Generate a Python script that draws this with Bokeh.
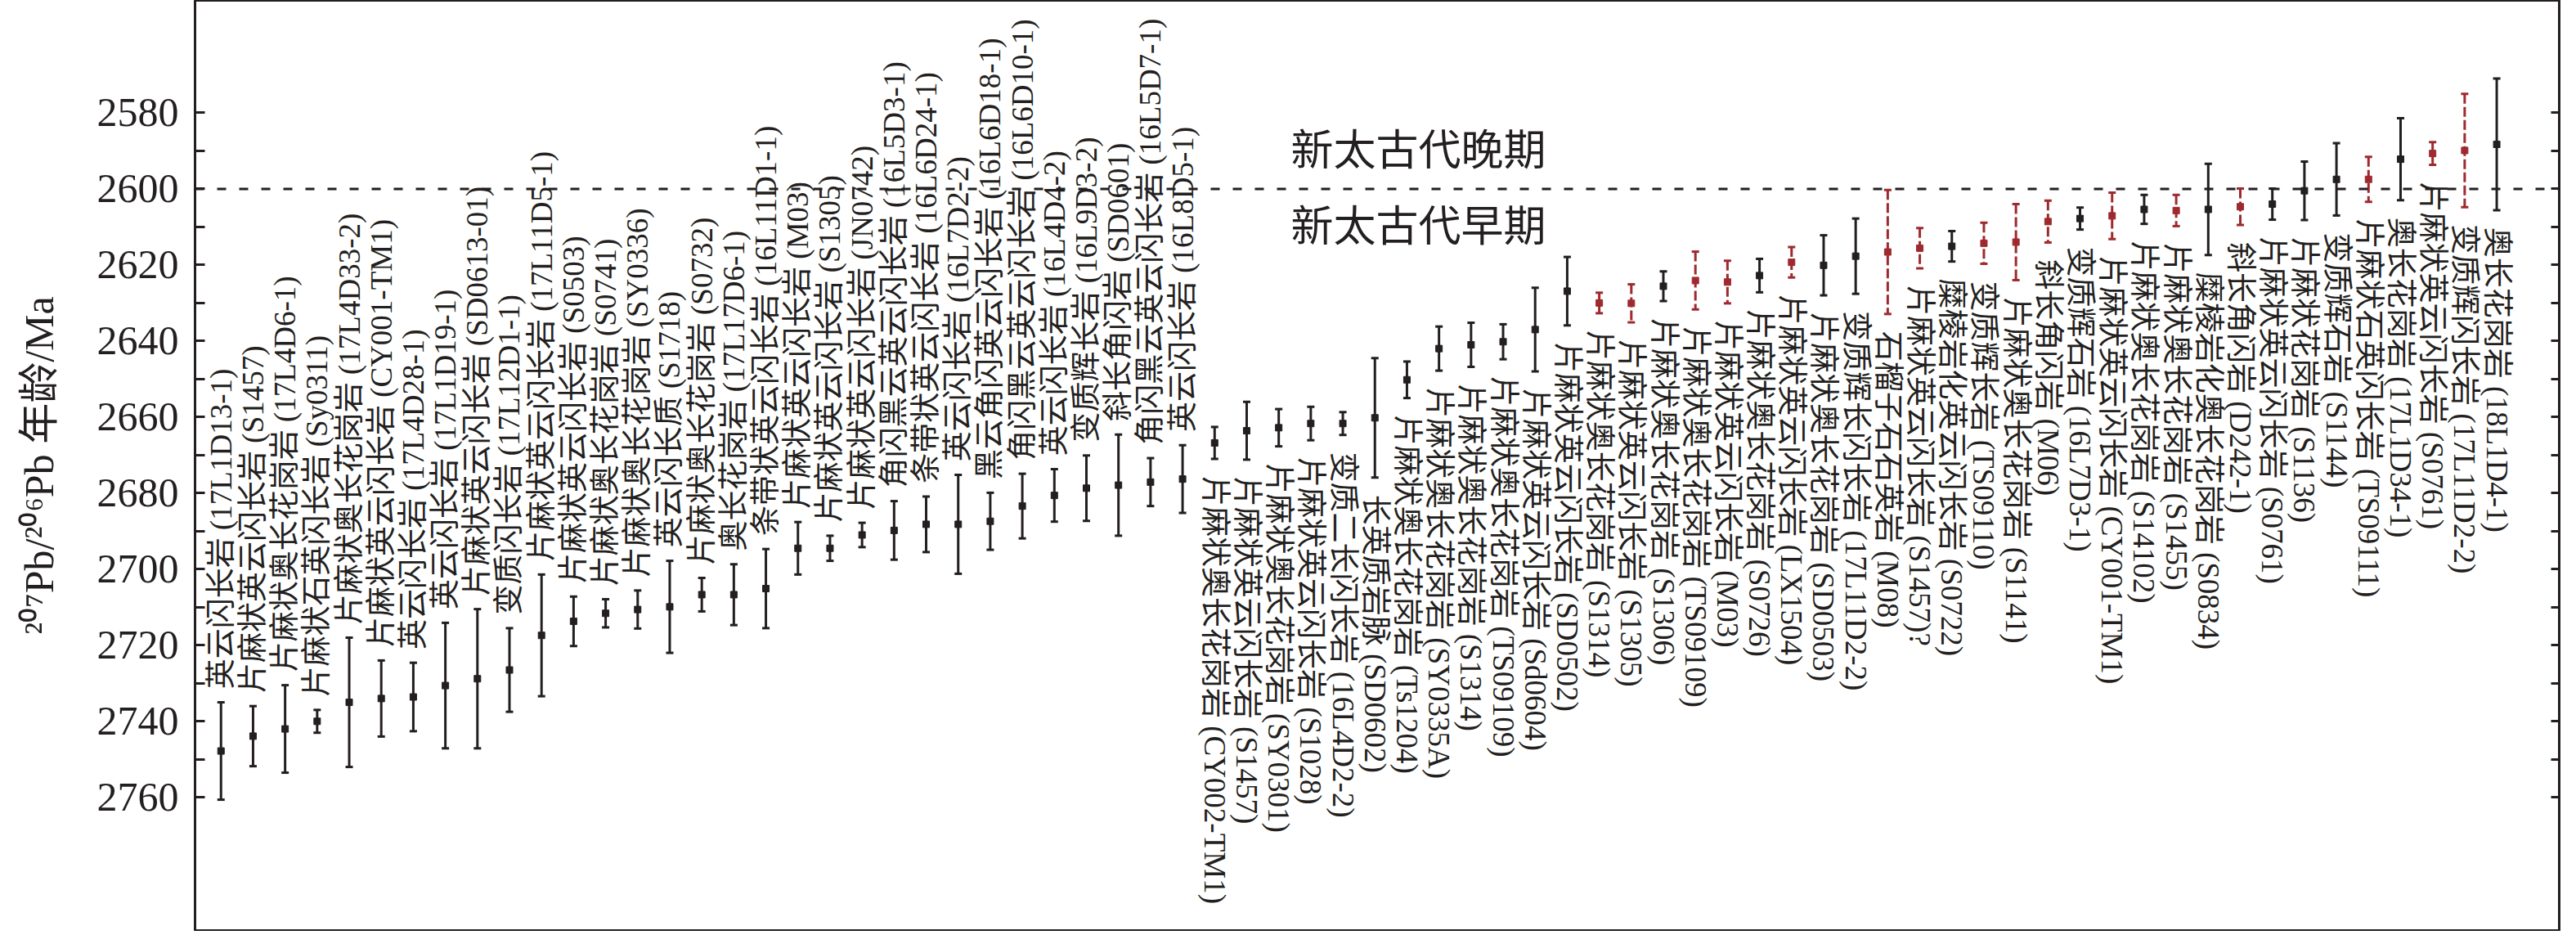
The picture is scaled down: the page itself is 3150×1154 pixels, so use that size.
import numpy as np
from bokeh.plotting import figure
from bokeh.models import ColumnDataSource, Range1d, LinearAxis, FixedTicker, Span, Label
from bokeh.embed import file_html
from bokeh.resources import INLINE
from bokeh.core.properties import value

samples = [
    "英云闪长岩 (17L1D13-1)", "片麻状英云闪长岩 (S1457)", "片麻状奥长花岗岩 (17L4D6-1)",
    "片麻状石英闪长岩 (Sy0311)", "片麻状奥长花岗岩 (17L4D33-2)", "片麻状英云闪长岩 (CY001-TM1)",
    "英云闪长岩 (17L4D28-1)", "英云闪长岩 (17L1D19-1)", "片麻状英云闪长岩 (SD0613-01)",
    "变质闪长岩 (17L12D1-1)", "片麻状英云闪长岩 (17L11D5-1)", "片麻状英云闪长岩 (S0503)",
    "片麻状奥长花岗岩 (S0741)", "片麻状奥长花岗岩 (SY0336)", "英云闪长质 (S1718)",
    "片麻状奥长花岗岩 (S0732)", "奥长花岗岩 (17L17D6-1)", "条带状英云闪长岩 (16L11D1-1)",
    "片麻状英云闪长岩 (M03)", "片麻状英云闪长岩 (S1305)", "片麻状英云闪长岩 (JN0742)",
    "角闪黑云英云闪长岩 (16L5D3-1)", "条带状英云闪长岩 (16L6D24-1)", "英云闪长岩 (16L7D2-2)",
    "黑云角闪英云闪长岩 (16L6D18-1)", "角闪黑云英云闪长岩 (16L6D10-1)", "英云闪长岩 (16L4D4-2)",
    "变质辉长岩 (16L9D3-2)", "斜长角闪岩 (SD0601)", "角闪黑云英云闪长岩 (16L5D7-1)",
    "英云闪长岩 (16L8D5-1)",
    "片麻状奥长花岗岩 (CY002-TM1)", "片麻状英云闪长岩 (S1457)", "片麻状奥长花岗岩 (SY0301)",
    "片麻状英云闪长岩 (S1028)", "变质二长闪长岩 (16L4D2-2)", "长英质岩脉 (SD0602)",
    "片麻状奥长花岗岩 (Ts1204)", "片麻状奥长花岗岩 (SY0335A)", "片麻状奥长花岗岩 (S1314)",
    "片麻状奥长花岗岩 (TS09109)", "片麻状英云闪长岩 (Sd0604)", "片麻状英云闪长岩 (SD0502)",
    "片麻状奥长花岗岩 (S1314)", "片麻状英云闪长岩 (S1305)", "片麻状奥长花岗岩 (S1306)",
    "片麻状奥长花岗岩 (TS09109)", "片麻状英云闪长岩 (M03)", "片麻状奥长花岗岩 (S0726)",
    "片麻状英云闪长岩 (LX1504)", "片麻状奥长花岗岩 (SD0503)", "变质辉长闪长岩 (17L11D2-2)",
    "石榴子石石英岩 (M08)", "片麻状英云闪长岩 (S1457)?", "糜棱岩化英云闪长岩 (S0722)",
    "变质辉长岩 (TS09110)", "片麻状奥长花岗岩 (S1141)", "斜长角闪岩 (M06)",
    "变质辉石岩 (16L7D3-1)", "片麻状英云闪长岩 (CY001-TM1)", "片麻状奥长花岗岩 (S14102)",
    "片麻状奥长花岗岩 (S1455)", "糜棱岩化奥长花岗岩 (S0834)", "斜长角闪岩 (D242-1)",
    "片麻状英云闪长岩 (S0761)", "片麻状花岗岩 (S1136)", "变质辉石岩 (S1144)",
    "片麻状石英闪长岩 (TS09111)", "奥长花岗岩 (17L1D34-1)", "片麻状英云闪长岩 (S0761)",
    "变质辉闪长岩 (17L11D2-2)", "奥长花岗岩 (18L1D4-1)",
]

ages = [
    2747.8, 2743.9, 2742.0, 2740.0, 2735.0, 2734.0, 2733.6, 2730.6, 2728.8, 2726.5,
    2717.4, 2713.7, 2711.6, 2710.6, 2709.9, 2706.7, 2706.7, 2705.1, 2694.5, 2694.5,
    2691.0, 2689.8, 2688.2, 2688.2, 2687.4, 2683.4, 2680.6, 2678.7, 2677.9, 2677.1,
    2676.3, 2666.8, 2663.6, 2662.8, 2661.7, 2661.7, 2660.2, 2650.2, 2642.0, 2641.0,
    2640.2, 2637.0, 2626.9, 2630.0, 2630.1, 2625.6, 2624.1, 2624.5, 2622.8, 2619.3,
    2620.1, 2617.7, 2616.6, 2615.6, 2615.1, 2614.3, 2614.0, 2608.6, 2607.8, 2607.1,
    2605.4, 2605.7, 2605.4, 2604.7, 2604.0, 2600.5, 2597.5, 2597.5, 2592.2, 2590.7,
    2589.9, 2588.3,
]

errors = [
    12.8, 7.9, 11.5, 3.0, 17.0, 10.0, 9.0, 16.5, 18.3, 11.0,
    16.0, 6.5, 3.7, 5.0, 12.1, 4.4, 8.0, 10.4, 6.9, 3.3,
    3.2, 7.7, 7.3, 13.0, 7.5, 8.5, 6.9, 8.6, 13.3, 6.3,
    8.9, 4.2, 7.6, 4.9, 4.4, 3.0, 15.7, 4.8, 5.8, 5.8,
    4.6, 11.0, 9.0, 2.7, 5.0, 3.9, 7.6, 5.6, 4.4, 4.0,
    7.9, 9.9, 16.3, 5.3, 4.0, 5.4, 10.0, 5.5, 2.9, 6.1,
    3.8, 4.1, 12.0, 4.8, 4.1, 7.7, 9.5, 5.9, 10.8, 3.0,
    14.9, 17.3,
]

# 1 = data plotted in red with dashed error bar
highlighted = [
    0, 0, 0, 0, 0, 0, 0, 0, 0, 0,
    0, 0, 0, 0, 0, 0, 0, 0, 0, 0,
    0, 0, 0, 0, 0, 0, 0, 0, 0, 0,
    0, 0, 0, 0, 0, 0, 0, 0, 0, 0,
    0, 0, 0, 1, 1, 0, 1, 1, 0, 1,
    0, 0, 1, 1, 0, 1, 1, 1, 0, 1,
    0, 1, 0, 1, 0, 0, 0, 1, 0, 1,
    1, 0,
]

y_labelled_ticks = list(range(2580, 2761, 20))
y_minor_ticks = list(range(2590, 2751, 20))
y_all_ticks = list(range(2580, 2761, 10))
upper_label_count = 31  # first samples are labelled above their bars
period_names = ["新太古代晚期", "新太古代早期"]
period_boundary = 2600

BLACK = "#231f20"
RED = "#9e2a2f"
SERIF = "Liberation Serif, Noto Sans CJK SC"

ages_a = np.array(ages)
err_a = np.array(errors)
xs = np.arange(1, len(ages) + 1)
hl = np.array(highlighted, dtype=bool)

p = figure(width=3134, height=1138, output_backend="svg", toolbar_location=None,
           x_range=Range1d(0.19, 73.95), y_range=Range1d(2795.0, 2550.45),
           x_axis_location=None, min_border_left=238, min_border_right=5,
           min_border_top=0, min_border_bottom=1)
p.background_fill_color = "white"
p.border_fill_color = "white"
p.outline_line_color = BLACK
p.outline_line_width = 3
p.xgrid.visible = False
p.ygrid.visible = False

ax = p.yaxis[0]
ax.ticker = FixedTicker(ticks=y_labelled_ticks, minor_ticks=y_minor_ticks)
ax.major_tick_in = 12
ax.major_tick_out = 0
ax.minor_tick_in = 12
ax.minor_tick_out = 0
ax.major_tick_line_width = 3
ax.minor_tick_line_width = 3
ax.major_tick_line_color = BLACK
ax.minor_tick_line_color = BLACK
ax.axis_line_color = None
ax.major_label_text_font = "Liberation Serif"
ax.major_label_text_font_size = "50px"
ax.major_label_text_color = BLACK
ax.major_label_standoff = 20
ax.axis_label = "²⁰⁷Pb/²⁰⁶Pb 年龄/Ma"
ax.axis_label_text_font = SERIF
ax.axis_label_text_font_style = "normal"
ax.axis_label_text_font_size = "50px"
ax.axis_label_text_color = BLACK
ax.axis_label_standoff = 40

rax = LinearAxis(ticker=FixedTicker(ticks=[], minor_ticks=y_all_ticks),
                 major_label_standoff=0, major_tick_in=0, major_tick_out=0,
                 minor_tick_in=10, minor_tick_out=0,
                 minor_tick_line_width=3, minor_tick_line_color=BLACK,
                 axis_line_color=None)
p.add_layout(rax, "right")

p.add_layout(Span(location=period_boundary, dimension="width", line_color=BLACK,
                  line_width=3, line_dash="11 16"))

for mask, color, dash in [(~hl, BLACK, "solid"), (hl, RED, "12 4")]:
    src = ColumnDataSource(dict(x=xs[mask], age=ages_a[mask],
                                lo=ages_a[mask] - err_a[mask], hi=ages_a[mask] + err_a[mask]))
    p.segment(x0="x", y0="lo", x1="x", y1="hi", source=src, line_color=color,
              line_width=3, line_dash=dash)
    p.scatter(x="x", y="lo", source=src, marker="dash", size=9, line_color=color, line_width=3)
    p.scatter(x="x", y="hi", source=src, marker="dash", size=9, line_color=color, line_width=3)
    p.scatter(x="x", y="age", source=src, marker="square", size=8,
              fill_color=color, line_color=color)

n_up = upper_label_count
up_src = ColumnDataSource(dict(x=xs[:n_up], y=ages_a[:n_up] - err_a[:n_up] - 3.5,
                               t=samples[:n_up]))
dn_src = ColumnDataSource(dict(x=xs[n_up:], y=ages_a[n_up:] + err_a[n_up:] + 4.5,
                               t=samples[n_up:]))
p.text(x="x", y="y", text="t", source=up_src, angle=np.pi / 2, text_align="left",
       text_baseline="middle", text_font=value(SERIF), text_font_size="37px",
       text_color=BLACK)
p.text(x="x", y="y", text="t", source=dn_src, angle=-np.pi / 2, text_align="left",
       text_baseline="middle", text_font=value(SERIF), text_font_size="37px",
       text_color=BLACK)

for txt, yv in zip(period_names, [period_boundary - 10, period_boundary + 10]):
    p.add_layout(Label(x=38.36, y=yv, text=txt, text_align="center", text_baseline="middle",
                       text_font=SERIF, text_font_size="52px", text_color=BLACK))

open("out.html", "w").write(file_html(p, INLINE))
